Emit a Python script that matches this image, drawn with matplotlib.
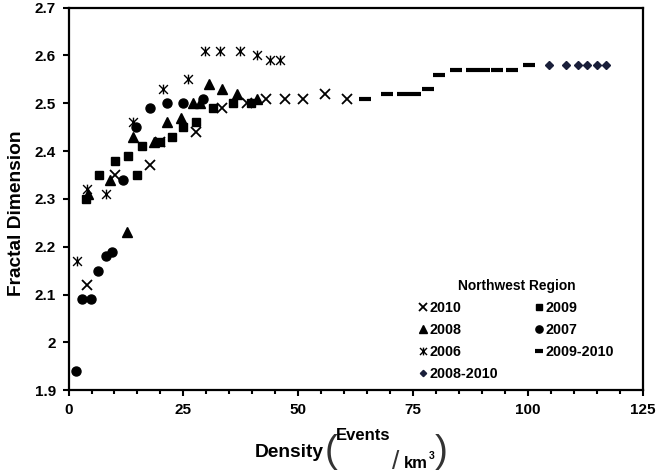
#!/usr/bin/env python3
"""Fractal dimension vs event density, Northwest region."""

import matplotlib

matplotlib.use("Agg")
import matplotlib.pyplot as plt
from matplotlib.path import Path

plt.rcParams["font.family"] = ["Liberation Sans", "DejaVu Sans"]
plt.rcParams["font.weight"] = "bold"

W, H = 659, 476

# --- data ---
x_2010 = [4.0, 10.1, 17.7, 19.9, 27.7, 33.3, 38.8, 43.0, 47.1, 51.1, 55.8, 60.7]
y_2010 = [2.12, 2.35, 2.37, 2.42, 2.44, 2.49, 2.50, 2.51, 2.51, 2.51, 2.52, 2.51]

x_2009 = [3.8, 6.7, 10.1, 13.0, 15.0, 15.9, 19.9, 22.6, 24.8, 27.7, 31.4, 35.7, 39.7]
y_2009 = [2.30, 2.35, 2.38, 2.39, 2.35, 2.41, 2.42, 2.43, 2.45, 2.46, 2.49, 2.50, 2.50]

x_2008 = [4.3, 9.0, 12.8, 14.1, 18.5, 21.4, 24.4, 27.0, 28.5, 30.6, 33.5, 36.7, 41.1]
y_2008 = [2.31, 2.34, 2.23, 2.43, 2.42, 2.46, 2.47, 2.50, 2.50, 2.54, 2.53, 2.52, 2.51]

x_2007 = [1.6, 2.9, 4.8, 6.5, 8.1, 9.5, 11.9, 14.7, 17.7, 21.4, 25.0, 29.3]
y_2007 = [1.94, 2.09, 2.09, 2.15, 2.18, 2.19, 2.34, 2.45, 2.49, 2.50, 2.50, 2.51]

x_2006 = [1.8, 4.0, 8.2, 14.1, 20.6, 26.1, 29.7, 33.0, 37.3, 41.1, 43.8, 46.0]
y_2006 = [2.17, 2.32, 2.31, 2.46, 2.53, 2.55, 2.61, 2.61, 2.61, 2.60, 2.59, 2.59]

x_0910 = [64.5, 69.4, 72.8, 75.4, 78.2, 80.7, 84.3, 87.7, 90.3, 93.3, 96.6, 100.2]
y_0910 = [2.51, 2.52, 2.52, 2.52, 2.53, 2.56, 2.57, 2.57, 2.57, 2.57, 2.57, 2.58]

x_0810 = [104.6, 108.2, 110.9, 112.9, 114.9, 117.0]
y_0810 = [2.58, 2.58, 2.58, 2.58, 2.58, 2.58]

ytick_vals = [1.9, 2.0, 2.1, 2.2, 2.3, 2.4, 2.5, 2.6, 2.7]
ytick_labels = ["1.9", "2", "2.1", "2.2", "2.3", "2.4", "2.5", "2.6", "2.7"]


def px(x, y):
    # pixel position (from top-left) -> figure fraction
    return x / W, 1 - y / H


# Excel-style star: an x with a vertical bar through it
star = Path(
    [(-1, -1), (1, 1), (-1, 1), (1, -1), (0, -1.1), (0, 1.1)],
    [Path.MOVETO, Path.LINETO, Path.MOVETO, Path.LINETO, Path.MOVETO, Path.LINETO],
)

fig = plt.figure(figsize=(W / 100, H / 100), dpi=100)
ax = fig.add_axes([0.104, 0.18, 0.8717, 0.804])

kw = dict(linestyle="none", color="black")
h10, = ax.plot(x_2010, y_2010, marker="x", markersize=7, mew=1.3, label="2010", **kw)
h09, = ax.plot(x_2009, y_2009, marker="s", markersize=6, label="2009", **kw)
h08, = ax.plot(x_2008, y_2008, marker="^", markersize=6.5, label="2008", **kw)
h07, = ax.plot(x_2007, y_2007, marker="o", markersize=6.5, label="2007", **kw)
h06, = ax.plot(x_2006, y_2006, marker=star, markersize=7, mew=1.0, label="2006", **kw)
h0910, = ax.plot(x_0910, y_0910, marker="_", markersize=8, mew=3.0, label="2009-2010", **kw)
h0810, = ax.plot(x_0810, y_0810, marker="D", markersize=4, linestyle="none",
                 color="#1a1f3a", label="2008-2010")

ax.set_xlim(0, 125)
ax.set_ylim(1.9, 2.7)
ax.set_xticks([0, 25, 50, 75, 100, 125])
ax.set_xticks(range(0, 126, 5), minor=True)
ax.set_yticks(ytick_vals)
ax.set_yticklabels(ytick_labels)
ax.tick_params(axis="both", which="major", direction="out", length=4, width=1.5,
               labelsize=11, pad=5)
ax.tick_params(axis="x", which="minor", direction="out", length=3, width=1.5)
for sp in ax.spines.values():
    sp.set_linewidth(1.6)

# y label
fig.text(*px(17, 213), "Fractal Dimension", rotation=90, ha="center", va="center",
         fontsize=13.8, fontweight="bold")

# x label built from pieces: Density (Events / km^3)
fig.text(*px(255, 457), "Density", ha="left", va="baseline", fontsize=13.8)
fig.text(*px(325, 462), "(", ha="left", va="baseline", fontsize=28,
         fontweight="normal", color="#333333")
fig.text(*px(336, 440), "Events", ha="left", va="baseline", fontsize=12)
fig.text(*px(392, 469), "/", ha="left", va="baseline", fontsize=19,
         fontweight="normal", color="#333333")
fig.text(*px(404, 468), "km", ha="left", va="baseline", fontsize=12)
fig.text(*px(429, 459), "3", ha="left", va="baseline", fontsize=7.5)
fig.text(*px(435, 462), ")", ha="left", va="baseline", fontsize=28,
         fontweight="normal", color="#333333")

handles = [h10, h08, h06, h0810, h09, h07, h0910]
ax.legend(handles=handles, ncol=2, frameon=False, title="Northwest Region",
          loc="upper left", bbox_to_anchor=(0.587, 0.324), fontsize=10.3,
          title_fontproperties={"weight": "bold", "size": 9.9},
          handlelength=0.6, handletextpad=0.15, columnspacing=2.6,
          labelspacing=0.55, markerscale=0.8)

fig.savefig("out.png", dpi=100)
